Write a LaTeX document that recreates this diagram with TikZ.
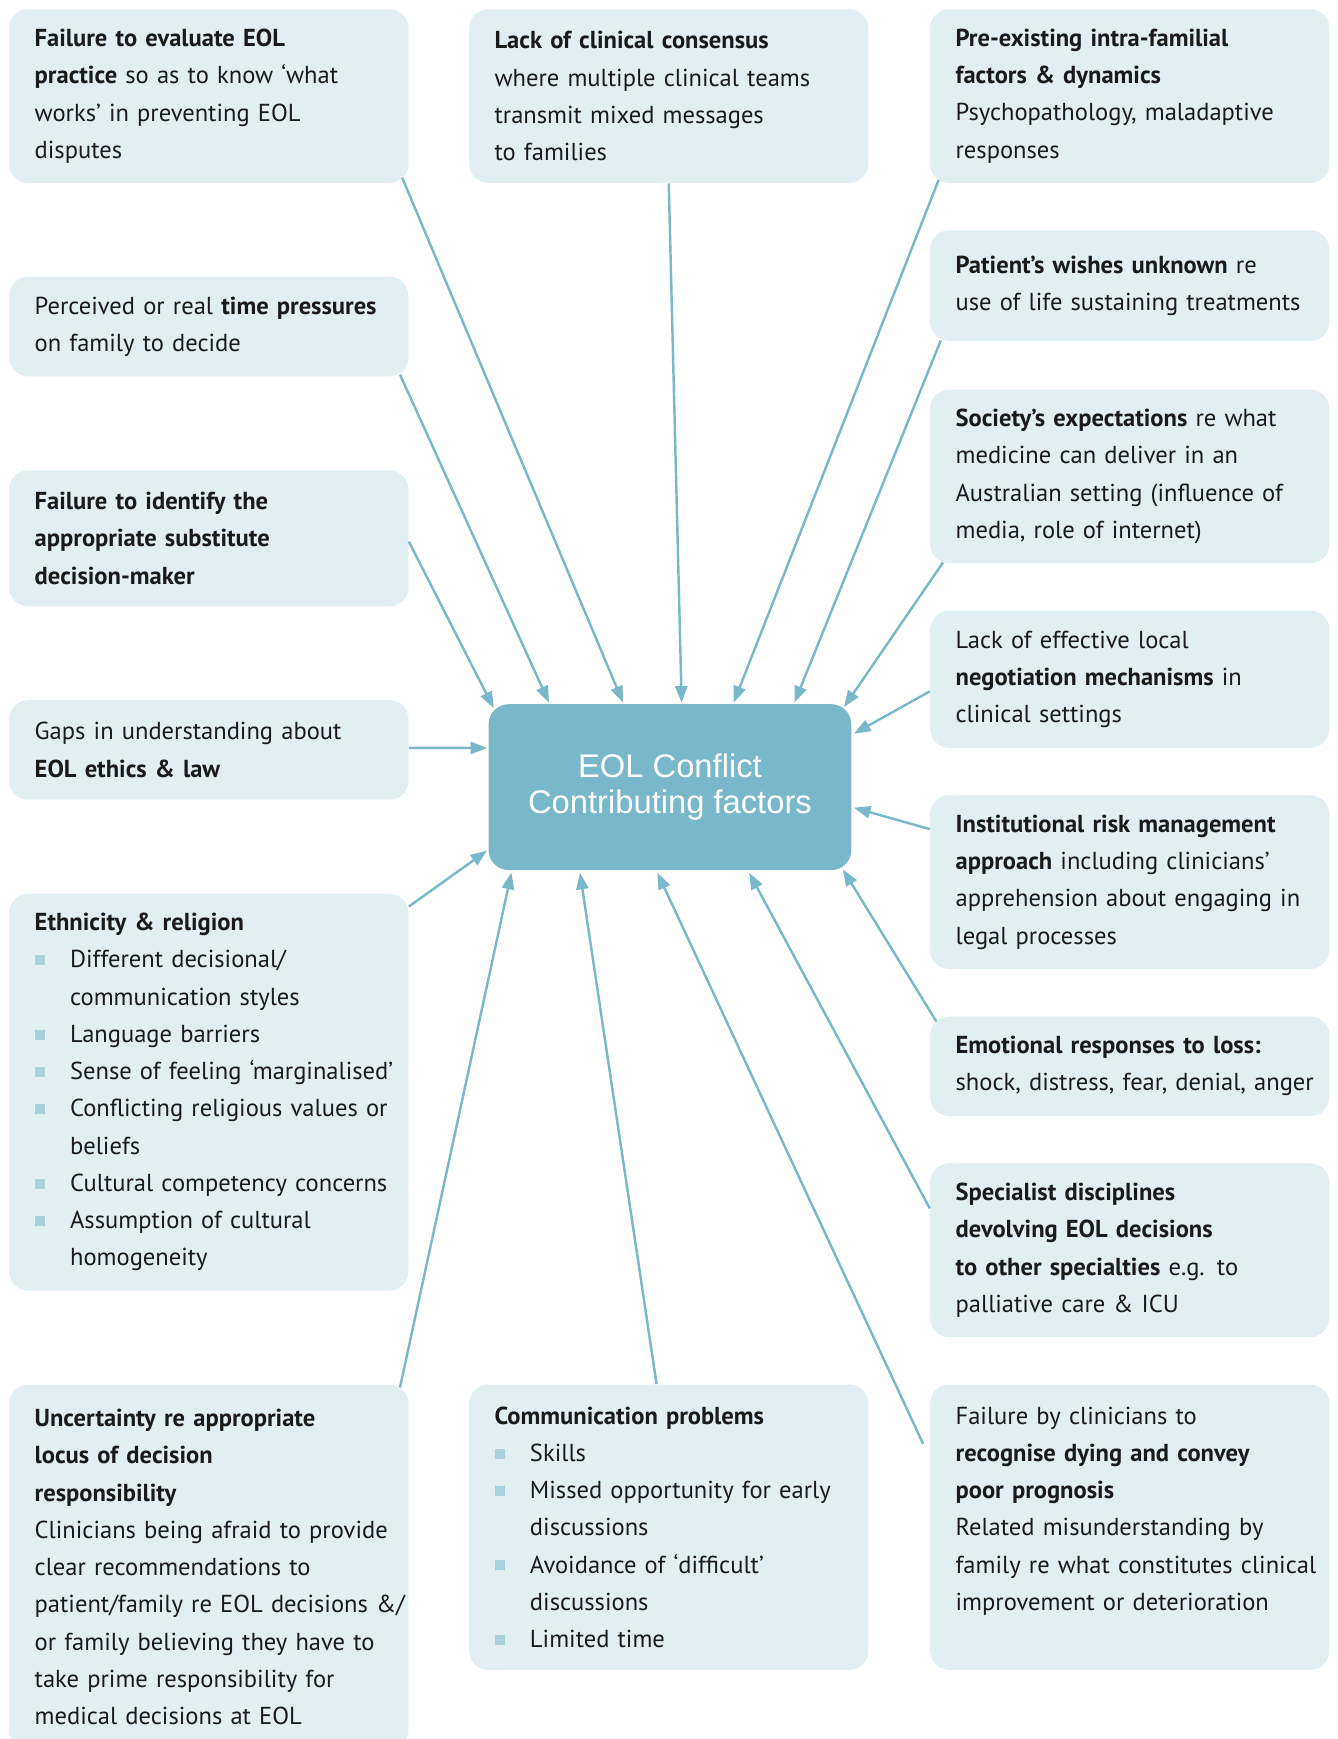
\documentclass[tikz,border=0pt]{standalone}
\usepackage{fontspec}
\setmainfont{PT Sans}
\newfontfamily\titlefont{Liberation Sans}
\usetikzlibrary{positioning,arrows.meta}
\definecolor{boxblue}{HTML}{E1EFF3}
\definecolor{eolblue}{HTML}{79B8CA}
\definecolor{bulblue}{HTML}{A9D1DC}
\definecolor{txt}{HTML}{1A1A1A}
\newcommand{\bitem}[1]{\par\hangindent=16pt\hangafter=1\noindent\makebox[16pt][l]{\textcolor{bulblue}{\rule[1.2pt]{4.5pt}{4.5pt}}}#1\par}

\begin{document}
\begin{tikzpicture}[x=0.5pt,y=-0.5pt,
    box/.style={rectangle,rounded corners=8.5pt,fill=boxblue,anchor=north west,
        inner xsep=0pt,inner ysep=2pt,text width=180.5pt,align=left,text=txt,
        font=\fontsize{11.1}{16.85}\selectfont,
        execute at begin node={\leftskip=11.5pt\relax}},
    eol/.style={rectangle,rounded corners=9pt,fill=eolblue,text=white,
        minimum width=164pt,minimum height=75pt,align=center,
        font=\titlefont\fontsize{14.8}{16.5}\selectfont},
    arr/.style={draw=eolblue,line width=1.1pt,-{Triangle[length=7.5pt,width=5.5pt]}}]
    \useasboundingbox (0,0) rectangle (1210,1573);

    % left column
    \node (evalp) [box,minimum height=78.5pt] at (8,8) {\textbf{Failure to evaluate EOL}\\
        \textbf{practice} so as to know ‘what\\ works’ in preventing EOL\\ disputes};
    \node (timep) [box,minimum height=45pt] at (8,250) {Perceived or real \textbf{time pressures}\\
        on family to decide};
    \node (sdm) [box,minimum height=61.5pt] at (8,425) {\textbf{Failure to identify the}\\
        \textbf{appropriate substitute}\\ \textbf{decision-maker}};
    \node (gaps) [box,minimum height=45pt] at (8,633) {Gaps in understanding about\\
        \textbf{EOL ethics \& law}};
    \node (ethn) [box,minimum height=179.5pt] at (8,808) {\textbf{Ethnicity \& religion}
        \bitem{Different decisional/\newline communication styles}
        \bitem{Language barriers}
        \bitem{Sense of feeling ‘marginalised’}
        \bitem{Conflicting religious values or\newline beliefs}
        \bitem{Cultural competency concerns}
        \bitem{Assumption of cultural\newline homogeneity}};
    \node (uncert) [box,minimum height=165pt] at (8,1252) {\textbf{Uncertainty re appropriate}\\
        \textbf{locus of decision}\\ \textbf{responsibility}\\
        Clinicians being afraid to provide\\ clear recommendations to\\
        patient/family re EOL decisions \&/\\ or family believing they have to\\
        take prime responsibility for\\ medical decisions at EOL};

    % middle column
    \node (cons) [box,minimum height=78.5pt] at (424,8) {\textbf{Lack of clinical consensus}\\
        where multiple clinical teams\\ transmit mixed messages\\ to families};
    \node (eol) [eol] at (606,712) {EOL Conflict\\ Contributing factors};
    \node (comm) [box,minimum height=129pt] at (424,1252) {\textbf{Communication problems}
        \bitem{Skills}
        \bitem{Missed opportunity for early\newline discussions}
        \bitem{Avoidance of ‘difficult’\newline discussions}
        \bitem{Limited time}};

    % right column
    \node (intra) [box,minimum height=78.5pt] at (841,8) {\textbf{Pre-existing intra-familial}\\
        \textbf{factors \& dynamics}\\ Psychopathology, maladaptive\\ responses};
    \node (wish) [box,minimum height=50pt] at (841,208) {\textbf{Patient’s wishes unknown} re\\
        use of life sustaining treatments};
    \node (soc) [box,minimum height=78.5pt] at (841,352) {\textbf{Society’s expectations} re what\\
        medicine can deliver in an\\ Australian setting (influence of\\ media, role of internet)};
    \node (negot) [box,minimum height=62pt] at (841,552) {Lack of effective local\\
        \textbf{negotiation mechanisms} in\\ clinical settings};
    \node (inst) [box,minimum height=78.5pt] at (841,719) {\textbf{Institutional risk management}\\
        \textbf{approach} including clinicians’\\ apprehension about engaging in\\ legal processes};
    \node (emot) [box,minimum height=45pt] at (841,919) {\textbf{Emotional responses to loss:}\\
        shock, distress, fear, denial, anger};
    \node (spec) [box,minimum height=78.5pt] at (841,1052) {\textbf{Specialist disciplines}\\
        \textbf{devolving EOL decisions}\\ \textbf{to other specialties} e.g. to\\ palliative care \& ICU};
    \node (recog) [box,minimum height=129pt] at (841,1252) {Failure by clinicians to\\
        \textbf{recognise dying and convey}\\ \textbf{poor prognosis}\\
        Related misunderstanding by\\ family re what constitutes clinical\\
        improvement or deterioration\\ \mbox{}};

    % arrows into the centre
    \draw [arr] ([shift={(-6,-5)}]evalp.south east) -- ([shift={(122,-1)}]eol.north west);
    \draw [arr] ([shift={(-8,-2)}]timep.south east) -- ([shift={(55,-1)}]eol.north west);
    \draw [arr] ([shift={(0,3)}]sdm.east) -- ([shift={(5,4)}]eol.north west);
    \draw [arr] ([shift={(0,-2)}]gaps.east) -- ([shift={(-1,40)}]eol.north west);
    \draw [arr] ([shift={(0,12)}]ethn.north east) -- ([shift={(-1,-18)}]eol.south west);
    \draw [arr] ([shift={(-8,3)}]uncert.north east) -- ([shift={(21,2)}]eol.south west);
    \draw [arr] (cons.south) -- ([shift={(175,-1)}]eol.north west);
    \draw [arr] ([shift={(-11,0)}]comm.north) -- ([shift={(83,2)}]eol.south west);
    \draw [arr] ([shift={(8,-3)}]intra.south west) -- ([shift={(222,-1)}]eol.north west);
    \draw [arr] ([shift={(10,-1)}]wish.south west) -- ([shift={(277,-1)}]eol.north west);
    \draw [arr] ([shift={(12,-1)}]soc.south west) -- ([shift={(-7,3)}]eol.north east);
    \draw [arr] ([shift={(0,11)}]negot.west) -- ([shift={(2,27)}]eol.north east);
    \draw [arr] ([shift={(0,31)}]inst.north west) -- ([shift={(2,94)}]eol.north east);
    \draw [arr] ([shift={(6,5)}]emot.north west) -- ([shift={(-8,-1)}]eol.south east);
    \draw [arr] ([shift={(0,41)}]spec.north west) -- ([shift={(236,2)}]eol.south west);
    \draw [arr] ([shift={(-6,54)}]recog.north west) -- ([shift={(153,2)}]eol.south west);
\end{tikzpicture}
\end{document}
